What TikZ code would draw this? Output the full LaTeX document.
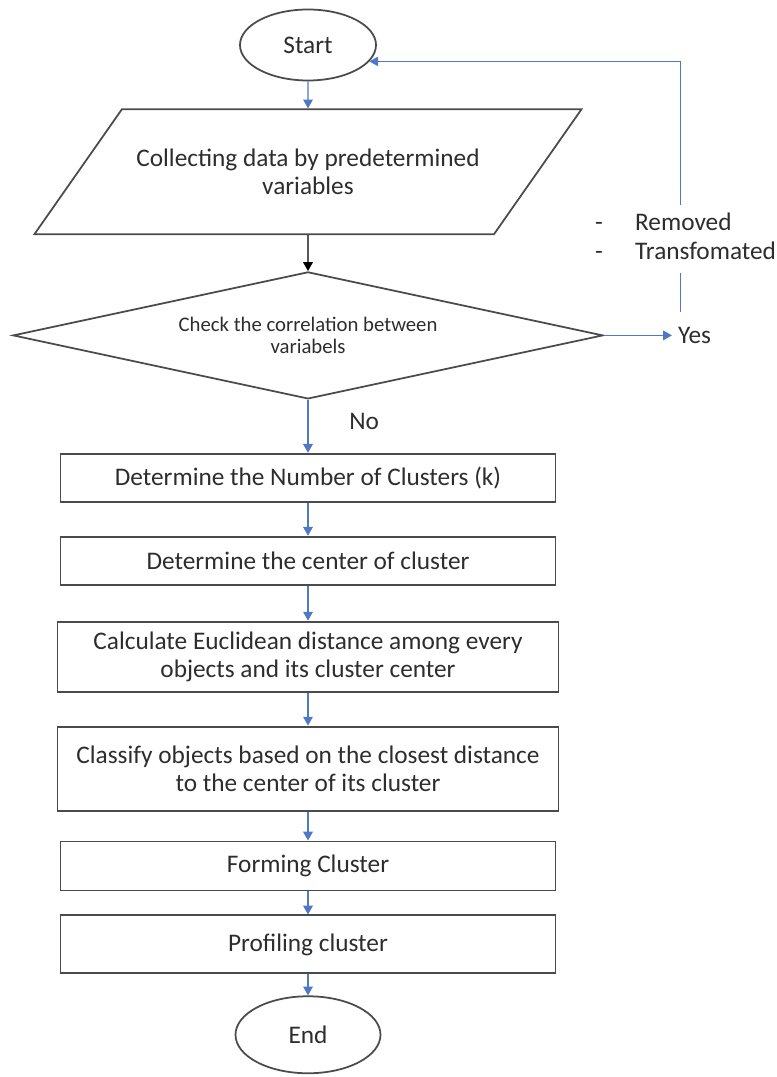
\documentclass[tikz,border=0pt]{standalone}
\usepackage{fontspec}
\setmainfont{Carlito}
\usepackage{tikz}
\usetikzlibrary{positioning, shapes.geometric, arrows.meta}

\definecolor{flowblue}{RGB}{79,121,196}
\definecolor{edgegray}{RGB}{75,75,75}
\definecolor{inkgray}{RGB}{45,45,45}

\tikzset{
    term/.style={draw=edgegray, line width=1pt, ellipse, minimum width=2.72cm, minimum height=1.42cm},
    iobox/.style={draw=edgegray, line width=1pt, trapezium, trapezium left angle=55, trapezium right angle=125,
        trapezium stretches body, minimum width=10.94cm, inner ysep=0.79cm, align=center},
    decide/.style={draw=edgegray, line width=1pt, diamond, aspect=4.6, minimum width=11.8cm, minimum height=2.54cm,
        align=center, font=\fontsize{11.8}{13}\selectfont},
    procbox/.style={draw=edgegray, line width=1.1pt, rectangle, minimum width=9.9cm, minimum height=0.96cm, align=center},
    widebox/.style={procbox, minimum width=10.02cm},
    flow/.style={->, draw=flowblue, line width=0.6pt},
}

\begin{document}
\begin{tikzpicture}[node distance=0.7cm, auto, >={Triangle[width=5.5pt,length=5pt]},
    font=\fontsize{14.4}{16}\selectfont, text=inkgray]
    \useasboundingbox (0,0) rectangle (15.54,-21.54);

    \node[term] (start) at (6.16,-0.9) {Start};
    \node[iobox, below=0.54cm of start] (data) {
        Collecting data by predetermined\\
        variables
    };
    \node[decide, below=0.72cm of data] (check) {
        Check the correlation between\\
        variabels
    };
    \node[right=1.36cm of check] (yes) {Yes};

    \node[procbox, below=1.06cm of check] (nclust) {Determine the Number of Clusters (k)};
    \node[procbox, below=0.66cm of nclust] (center) {Determine the center of cluster};
    \node[widebox, minimum height=1.4cm, below=0.7cm of center] (dist) {
        Calculate Euclidean distance among every\\
        objects and its cluster center
    };
    \node[widebox, minimum height=1.68cm, below=0.66cm of dist] (classify) {
        Classify objects based on the closest distance\\
        to the center of its cluster
    };
    \node[procbox, minimum height=0.98cm, below=0.58cm of classify] (forming) {Forming Cluster};
    \node[procbox, minimum height=1.16cm, below=0.46cm of forming] (profile) {Profiling cluster};
    \node[term, minimum width=2.9cm, minimum height=1.54cm, below=0.42cm of profile] (end) {End};

    \coordinate (back) at ([xshift=-2.8mm, yshift=1.8mm]yes.north);

    \draw[flow] (start) -- (data);
    \draw[->, line width=0.6pt] (data) -- (check);
    \draw[flow] (check) -- node[right=7mm, pos=0.4, text=inkgray] (nolbl) {No} (nclust);
    \draw[flow] (check) -- (yes);
    \draw[flow] (back) |- node[pos=0.145, anchor=center, fill=white, text=inkgray, xshift=1mm] (fixlbl) {%
        \begin{tabular}{@{}p{0.8cm}@{}l@{}}
            - & Removed\\
            - & Transfomated
        \end{tabular}} (start.-15);
    \draw[flow] (nclust) -- (center);
    \draw[flow] (center) -- (dist);
    \draw[flow] (dist) -- (classify);
    \draw[flow] (classify) -- (forming);
    \draw[flow] (forming) -- (profile);
    \draw[flow] (profile) -- (end);
\end{tikzpicture}
\end{document}
